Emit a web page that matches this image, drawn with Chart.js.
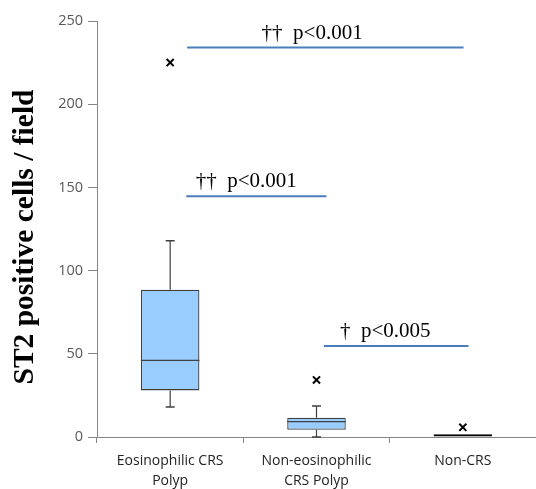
<!DOCTYPE html>
<html>
<head>
<meta charset="utf-8">
<script src="https://cdn.jsdelivr.net/npm/chart.js@4/dist/chart.umd.min.js"></script>
<style>
html,body{margin:0;padding:0;background:#fff;}
#wrap{width:536px;height:489px;position:relative;}
</style>
</head>
<body>
<div id="wrap"><canvas id="c"></canvas></div>
<script>
// ---- data ----
const categories = [['Eosinophilic CRS','Polyp'], ['Non-eosinophilic','CRS Polyp'], ['Non-CRS']];
const boxMin    = [18, 0, 0];
const boxQ1     = [28, 4.4, 0];
const boxMedian = [46, 9.2, 0.8];
const boxQ3     = [88.5, 11.6, 1.6];
const boxMax    = [118, 18.6, 1.6];
const outlierGroup = [0, 1, 2];
const outlierValue = [225, 34.3, 5.8];
const sigLabels = ['\u2020\u2020  p<0.001', '\u2020\u2020  p<0.001', '\u2020  p<0.005'];
const sigFrom   = [0.116, 0.110, 1.05];
const sigTo     = [2.005, 1.068, 2.039];
const sigLevel  = [234, 144.7, 54.7];
const sigTextX  = [0.97, 0.52, 1.47];
const yTicks    = [0, 50, 100, 150, 200, 250];
const yTitle    = 'ST2 positive cells / field';

const boxRanges = boxQ1.map((q, i) => [q, boxQ3[i]]);
const outliers = outlierGroup.map((g, i) => ({x: g, y: outlierValue[i]}));
const sigDatasets = sigFrom.map((f, i) => ({
  type: 'line',
  xAxisID: 'xs',
  data: [{x: f, y: sigLevel[i]}, {x: sigTo[i], y: sigLevel[i]}],
  borderColor: '#4a7ebb',
  borderWidth: 2,
  pointRadius: 0,
  fill: false
}));

const boxPlugin = {
  id: 'boxPlugin',
  afterDatasetsDraw(chart) {
    const ctx = chart.ctx;
    const y = chart.scales.y;
    const xs = chart.scales.xs;
    const meta = chart.getDatasetMeta(0);
    ctx.save();
    meta.data.forEach((bar, i) => {
      const cx = bar.x, hw = bar.width / 2;
      if (boxMax[i] > boxQ3[i] || boxMin[i] < boxQ1[i]) {
        ctx.strokeStyle = '#404040';
        ctx.lineWidth = 1.2;
        ctx.beginPath();
        ctx.moveTo(cx, y.getPixelForValue(boxQ3[i]));
        ctx.lineTo(cx, y.getPixelForValue(boxMax[i]));
        ctx.moveTo(cx, y.getPixelForValue(boxQ1[i]));
        ctx.lineTo(cx, y.getPixelForValue(boxMin[i]));
        ctx.stroke();
        ctx.lineWidth = 1.5;
        ctx.beginPath();
        ctx.moveTo(cx - 4.5, y.getPixelForValue(boxMax[i]));
        ctx.lineTo(cx + 4.5, y.getPixelForValue(boxMax[i]));
        ctx.moveTo(cx - 4.5, y.getPixelForValue(boxMin[i]));
        ctx.lineTo(cx + 4.5, y.getPixelForValue(boxMin[i]));
        ctx.stroke();
        ctx.lineWidth = 1.2;
        ctx.beginPath();
        ctx.moveTo(cx - hw, y.getPixelForValue(boxMedian[i]));
        ctx.lineTo(cx + hw, y.getPixelForValue(boxMedian[i]));
        ctx.stroke();
      }
    });
    ctx.fillStyle = '#000';
    ctx.font = '21px "Liberation Serif"';
    ctx.textAlign = 'center';
    ctx.textBaseline = 'alphabetic';
    sigLabels.forEach((t, i) => {
      ctx.fillText(t, xs.getPixelForValue(sigTextX[i]), y.getPixelForValue(sigLevel[i]) - 9);
    });
    // y axis title
    ctx.save();
    ctx.translate(25, (y.top + y.bottom) / 2 + 8);
    ctx.rotate(-Math.PI / 2);
    ctx.font = 'bold 29.5px "Liberation Serif"';
    ctx.textAlign = 'center';
    ctx.textBaseline = 'middle';
    ctx.fillText(yTitle, 0, 0);
    ctx.restore();
    ctx.restore();
  }
};

new Chart(document.getElementById('c'), {
  type: 'bar',
  data: {
    labels: categories,
    datasets: [
      {
        type: 'bar',
        data: boxRanges,
        backgroundColor: ['#99ccff', '#99ccff', '#000000'],
        borderColor: ['#404040', '#404040', '#000000'],
        borderWidth: 1.3,
        borderSkipped: false,
        grouped: false,
        barPercentage: 0.4,
        categoryPercentage: 1,
        order: 2
      },
      {
        type: 'scatter',
        xAxisID: 'xs',
        data: outliers,
        pointStyle: 'crossRot',
        radius: 5,
        borderColor: '#000',
        backgroundColor: '#000',
        borderWidth: 2,
        order: 1
      },
      ...sigDatasets
    ]
  },
  options: {
    responsive: true,
    maintainAspectRatio: false,
    animation: false,
    layout: {autoPadding: false, padding: {top: 21, right: 0, left: 0, bottom: 0}},
    plugins: {legend: {display: false}, tooltip: {enabled: false}},
    scales: {
      x: {
        type: 'category',
        offset: true,
        grid: {display: true, drawOnChartArea: false, drawTicks: true, tickLength: 6, color: '#868686', offset: true},
        border: {color: '#868686', width: 1},
        ticks: {color: '#222', font: {family: '"Open Sans"', size: 14, lineHeight: 1.45}, padding: 8, maxRotation: 0, autoSkip: false},
        afterFit(s) { s.height = 52; s.paddingLeft = 0; s.paddingRight = 0; }
      },
      xs: {
        type: 'linear',
        display: false,
        min: -0.5,
        max: 2.5,
        offset: false
      },
      y: {
        type: 'linear',
        min: 0,
        max: 250,
        afterBuildTicks(s) { s.ticks = yTicks.map(v => ({value: v})); },
        grid: {display: true, drawOnChartArea: false, drawTicks: true, tickLength: 9, color: '#868686'},
        border: {color: '#868686', width: 1},
        ticks: {color: '#595959', font: {family: '"Open Sans"', size: 14.5}, padding: 5},
        title: {display: false},
        afterFit(s) { s.width = 97; }
      }
    }
  },
  plugins: [boxPlugin]
});
</script>
</body>
</html>
